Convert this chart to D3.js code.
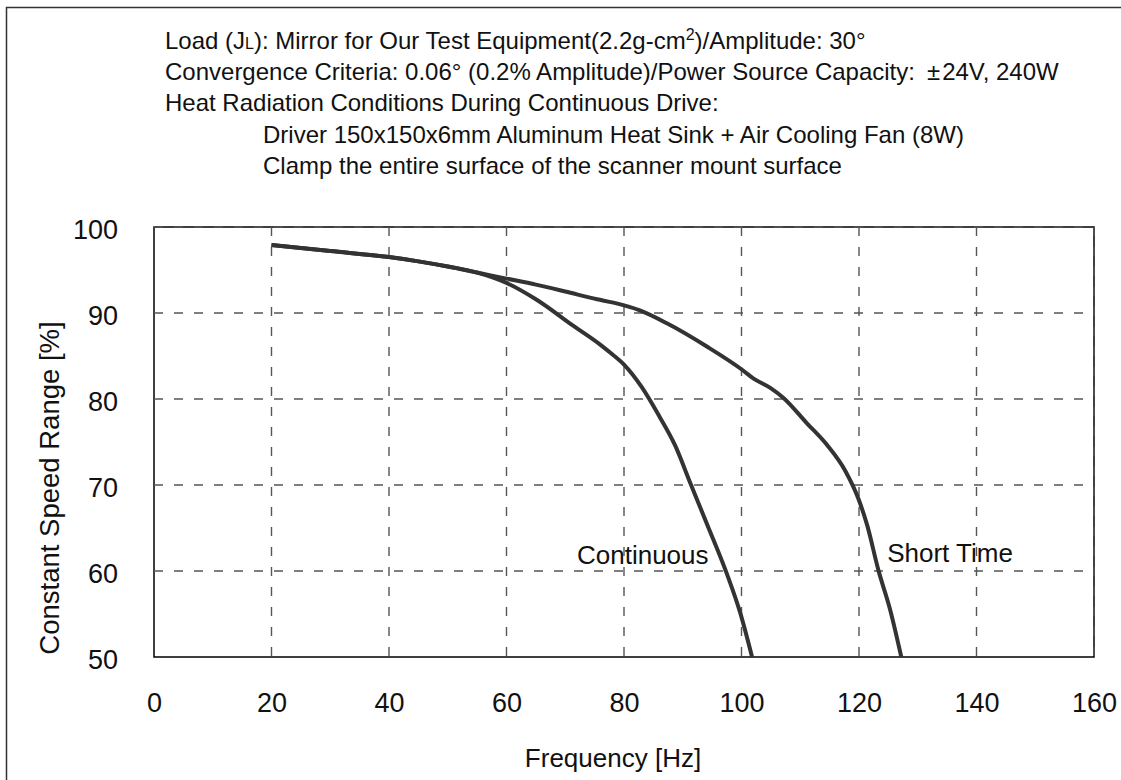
<!DOCTYPE html>
<html>
<head>
<meta charset="utf-8">
<script src="https://cdn.jsdelivr.net/npm/d3@7"></script>
<style>
  body { margin: 0; background: #fff; }
  svg { font-family: Arial, "Liberation Sans", sans-serif; }
</style>
</head>
<body>
<div id="chart"></div>
<script>
// values
const xTicks = [0, 20, 40, 60, 80, 100, 120, 140, 160];
const yTicks = [50, 60, 70, 80, 90, 100];

const continuousHz  = [20, 30, 40, 45, 50, 55, 60, 65, 71.4, 76, 78, 80, 83, 86, 88.7, 91.3, 94.1, 97.5, 99.8, 101.8];
const continuousPct = [97.9, 97.2, 96.5, 96.0, 95.4, 94.7, 93.5, 91.6, 88.5, 86.3, 85.2, 84.0, 81.4, 78.0, 74.6, 70.2, 65.5, 59.7, 55.1, 50];

const shortHz  = [20, 30, 40, 45, 50, 55, 60, 65, 70, 75.4, 78.2, 82.7, 87.3, 94.1, 100.1, 102, 104.9, 107.2, 111.1, 114.5, 117.7, 119.9, 121.4, 123.3, 125.3, 127.2];
const shortPct = [97.9, 97.2, 96.5, 96.0, 95.4, 94.7, 94.0, 93.3, 92.5, 91.6, 91.2, 90.3, 88.8, 86.1, 83.4, 82.4, 81.3, 80.1, 77.2, 74.7, 71.6, 68.4, 65.3, 60.1, 55.5, 50];

const curveNames  = ["Continuous", "Short Time"];
const curveLabelX = [72.0, 124.8];
const curveLabelY = [60.8, 61.0];

const width = 1121, height = 780;
const margin = {top: 227, right: 27, bottom: 123, left: 154};
const innerW = width - margin.left - margin.right;
const innerH = height - margin.top - margin.bottom;

const svg = d3.select("#chart").append("svg")
    .attr("width", width)
    .attr("height", height);

// outer frame (runs off the right and bottom edge)
svg.append("rect")
    .attr("x", 6.5).attr("y", 7.5)
    .attr("width", 1130).attr("height", 800)
    .attr("fill", "none")
    .attr("stroke", "#333")
    .attr("stroke-width", 1.5);

// header notes
const header = svg.append("g").attr("font-size", 24).attr("fill", "#111");

const l1 = header.append("text").attr("x", 165).attr("y", 49);
l1.append("tspan").text("Load (J");
l1.append("tspan").attr("font-size", 16).text("L");
l1.append("tspan").text("): Mirror for Our Test Equipment(2.2g-cm");
l1.append("tspan").attr("font-size", 16).attr("dy", -9).text("2");
l1.append("tspan").attr("dy", 9).text(")/Amplitude: 30°");

const l2 = header.append("text").attr("x", 165).attr("y", 80);
l2.append("tspan").text("Convergence Criteria: 0.06° (0.2% Amplitude)/Power Source Capacity:");
l2.append("tspan").attr("dx", 12).text("±");
l2.append("tspan").attr("dx", 2).text("24V, 240W");

header.append("text").attr("x", 165).attr("y", 111)
    .text("Heat Radiation Conditions During Continuous Drive:");
header.append("text").attr("x", 263).attr("y", 143)
    .text("Driver 150x150x6mm Aluminum Heat Sink + Air Cooling Fan (8W)");
header.append("text").attr("x", 263).attr("y", 174)
    .text("Clamp the entire surface of the scanner mount surface");

const g = svg.append("g")
    .attr("transform", `translate(${margin.left},${margin.top})`);

const x = d3.scaleLinear().domain([0, 160]).range([0, innerW]);
const y = d3.scaleLinear().domain([50, 100]).range([innerH, 0]);

// plot frame
g.append("rect")
    .attr("width", innerW).attr("height", innerH)
    .attr("fill", "none")
    .attr("stroke", "#000")
    .attr("stroke-width", 1.5);

// dashed grid
g.append("g").selectAll("line")
    .data(xTicks.filter(d => d > 0))
    .join("line")
    .attr("x1", d => x(d)).attr("x2", d => x(d))
    .attr("y1", 0).attr("y2", innerH)
    .attr("stroke", "#555")
    .attr("stroke-width", 1.4)
    .attr("stroke-dasharray", "9,11");

g.append("g").selectAll("line")
    .data(yTicks.filter(d => d > 50))
    .join("line")
    .attr("x1", 0).attr("x2", innerW)
    .attr("y1", d => y(d)).attr("y2", d => y(d))
    .attr("stroke", "#555")
    .attr("stroke-width", 1.4)
    .attr("stroke-dasharray", "9,11");

// axes (labels only)
const xAxis = g.append("g")
    .attr("transform", `translate(0,${innerH})`)
    .call(d3.axisBottom(x).tickValues(xTicks).tickSize(0).tickPadding(36));
xAxis.select(".domain").remove();
xAxis.selectAll("text")
    .attr("font-size", 27)
    .attr("font-family", "Arial, 'Liberation Sans', sans-serif")
    .attr("fill", "#111");

const yAxis = g.append("g")
    .call(d3.axisLeft(y).tickValues(yTicks).tickSize(0).tickPadding(36));
yAxis.select(".domain").remove();
yAxis.selectAll("text")
    .attr("font-size", 27)
    .attr("font-family", "Arial, 'Liberation Sans', sans-serif")
    .attr("dy", "0.42em")
    .attr("fill", "#111");

// axis titles
svg.append("text")
    .attr("x", 613).attr("y", 767)
    .attr("text-anchor", "middle")
    .attr("font-size", 26)
    .attr("fill", "#111")
    .text("Frequency [Hz]");

svg.append("text")
    .attr("transform", "translate(59,488) rotate(-90)")
    .attr("text-anchor", "middle")
    .attr("font-size", 27.5)
    .attr("fill", "#111")
    .text("Constant Speed Range [%]");

// curves
const line = d3.line()
    .x(d => x(d[0]))
    .y(d => y(d[1]))
    .curve(d3.curveMonotoneX);

const series = [
    d3.zip(shortHz, shortPct),
    d3.zip(continuousHz, continuousPct)
];

g.selectAll("path.curve")
    .data(series)
    .join("path")
    .attr("class", "curve")
    .attr("d", line)
    .attr("fill", "none")
    .attr("stroke", "#333")
    .attr("stroke-width", 4)
    .attr("stroke-linejoin", "round");

// curve labels
g.selectAll("text.curve-label")
    .data(curveNames)
    .join("text")
    .attr("class", "curve-label")
    .attr("x", (d, i) => x(curveLabelX[i]))
    .attr("y", (d, i) => y(curveLabelY[i]))
    .attr("font-size", 26)
    .attr("fill", "#111")
    .text(d => d);
</script>
</body>
</html>
